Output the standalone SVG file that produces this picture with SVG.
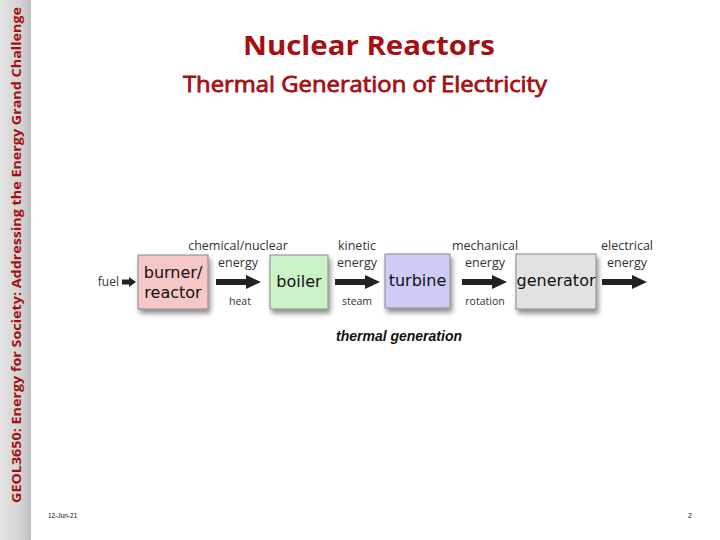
<svg xmlns="http://www.w3.org/2000/svg" width="720" height="540" viewBox="0 0 720 540">
<defs>
<linearGradient id="side" x1="0" y1="0" x2="1" y2="0">
<stop offset="0" stop-color="#e4e4e4"/>
<stop offset="0.7" stop-color="#d2d2d2"/>
<stop offset="1" stop-color="#bdbdbd"/>
</linearGradient>
<filter id="sh" x="-20%" y="-20%" width="150%" height="160%">
<feGaussianBlur in="SourceAlpha" stdDeviation="2.5"/>
<feOffset dx="2" dy="4" result="b"/>
<feComponentTransfer><feFuncA type="linear" slope="0.45"/></feComponentTransfer>
<feMerge><feMergeNode/><feMergeNode in="SourceGraphic"/></feMerge>
</filter>
<path id="big" d="M0,-3 L30,-3 L30,-7 L45,0 L30,7 L30,3 L0,3 z"/>
</defs>
<style>
.box{stroke:#888;stroke-width:1;filter:url(#sh)}
.bl{font-family:"DejaVu Sans",sans-serif;font-size:16px;fill:#111;text-anchor:middle}
.lb{font-family:"Open Sans","Liberation Sans",sans-serif;font-size:12.5px;fill:#333;text-anchor:middle}
.sm{font-family:"Open Sans","Liberation Sans",sans-serif;font-size:10.5px;fill:#333;text-anchor:middle}
.arr{fill:#222}
.ttl{font-family:"Open Sans","Liberation Sans",sans-serif;fill:#a50f12;text-anchor:middle}
</style>
<rect width="720" height="540" fill="#fff"/>
<rect x="0" y="0" width="31" height="540" fill="url(#side)"/>
<text transform="translate(21,503) rotate(-90)" font-family="Open Sans, Liberation Sans, sans-serif" font-weight="bold" font-size="13" fill="#a50f12" textLength="496" lengthAdjust="spacingAndGlyphs">GEOL3650: Energy for Society: Addressing the Energy Grand Challenge</text>
<text class="ttl" x="369" y="55" font-size="27" font-weight="bold" textLength="252" lengthAdjust="spacingAndGlyphs">Nuclear Reactors</text>
<text class="ttl" x="365" y="92" font-size="21" stroke="#a50f12" stroke-width="0.8" textLength="364" lengthAdjust="spacingAndGlyphs">Thermal Generation of Electricity</text>
<g id="connectors">
<path class="arr" d="M122,279.5 L129,279.5 L129,277 L136,282 L129,287 L129,284.5 L122,284.5 z"/>
<use class="arr" href="#big" x="216" y="282"/>
<use class="arr" href="#big" x="335" y="282"/>
<use class="arr" href="#big" x="462" y="282"/>
<use class="arr" href="#big" x="602" y="282"/>
</g>
<g id="fuel"><text class="lb" x="119" y="286" style="text-anchor:end;font-size:12px">fuel</text></g>
<g id="burner">
<rect class="box" x="138" y="255" width="70" height="54" fill="#f7c6c6"/>
<text class="bl" x="173" y="278">burner/</text>
<text class="bl" x="173" y="298">reactor</text>
</g>
<g id="boiler">
<rect class="box" x="270" y="255" width="58" height="54" fill="#ccf3c8"/>
<text class="bl" x="299" y="287">boiler</text>
</g>
<g id="turbine">
<rect class="box" x="385" y="254" width="65" height="54" fill="#ccccf6"/>
<text class="bl" x="417.5" y="286">turbine</text>
</g>
<g id="generator">
<rect class="box" x="516" y="254" width="80" height="55" fill="#e2e2e2"/>
<text class="bl" x="556" y="286">generator</text>
</g>
<g id="labels">
<text class="lb" x="238" y="249.5">chemical/nuclear</text>
<text class="lb" x="238" y="267">energy</text>
<text class="sm" x="240" y="305">heat</text>
<text class="lb" x="357" y="249.5">kinetic</text>
<text class="lb" x="357" y="267">energy</text>
<text class="sm" x="357" y="305">steam</text>
<text class="lb" x="485" y="249.5">mechanical</text>
<text class="lb" x="485" y="267">energy</text>
<text class="sm" x="485" y="305">rotation</text>
<text class="lb" x="627" y="249.5">electrical</text>
<text class="lb" x="627" y="267">energy</text>
</g>
<text x="399" y="341" font-family="Liberation Sans, Arial, sans-serif" font-weight="bold" font-style="italic" font-size="14" fill="#111" text-anchor="middle">thermal generation</text>
<text x="48" y="518" font-family="Liberation Sans, sans-serif" font-size="6.5" fill="#111">12-Jun-21</text>
<text x="688" y="518" font-family="Liberation Sans, sans-serif" font-size="7" fill="#111">2</text>
</svg>
